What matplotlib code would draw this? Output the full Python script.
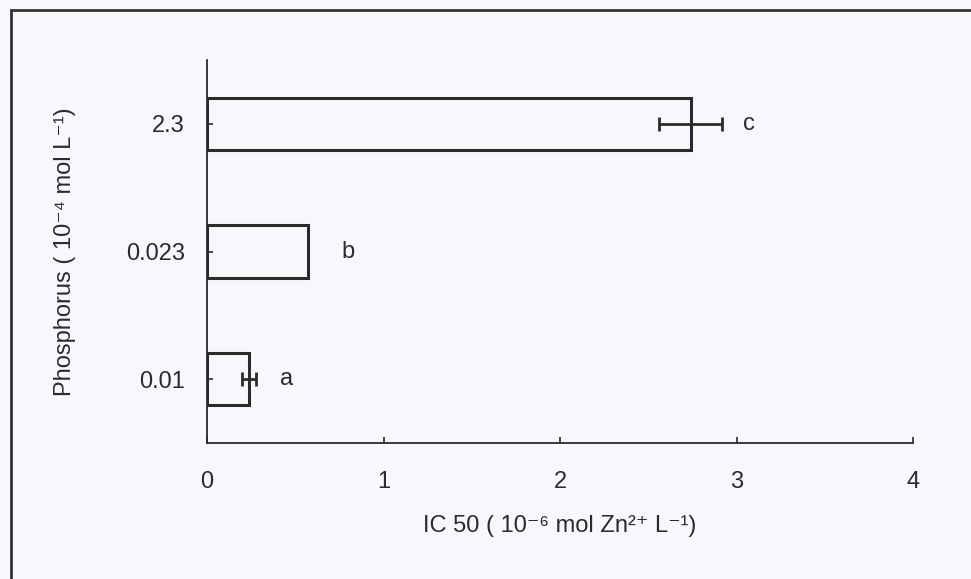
import matplotlib
matplotlib.use("Agg")
import matplotlib.pyplot as plt
from matplotlib.patches import Rectangle

categories = ["0.01", "0.023", "2.3"]
ic50 = [0.24, 0.575, 2.74]
errors = [0.04, 0.0, 0.18]
letters = ["a", "b", "c"]
letter_x = [0.45, 0.80, 3.07]

plt.rcParams["font.family"] = ["Liberation Sans", "DejaVu Sans"]
bg = "#f6f8fb"
ink = "#2b2b2b"
fs = 17

fig = plt.figure(figsize=(9.71, 5.79), dpi=100, facecolor=bg)
ax = fig.add_axes([207/971, 1-443/579, (913-207)/971, (443-60)/579])
ax.set_facecolor(bg)

# outer frame (only top/left visible in the scan)
fig.patches.append(Rectangle((11/971, -0.05), 1.2, 1-10/579+0.05, transform=fig.transFigure,
                             fill=False, edgecolor="#333333", linewidth=2))

ypos = range(len(categories))
ax.barh(ypos, ic50, height=0.41, color="none", edgecolor=ink, linewidth=2.2)
for y, v, e in zip(ypos, ic50, errors):
    if e > 0:
        ax.errorbar(v, y, xerr=e, fmt="none", ecolor=ink, elinewidth=2, capsize=5, capthick=2)
for y, lx, t in zip(ypos, letter_x, letters):
    ax.text(lx, y, t, fontsize=fs, color=ink, va="center", ha="center")

ax.set_xlim(0, 4)
ax.set_ylim(-0.5, 2.5)
ax.set_xticks([0, 1, 2, 3, 4])
ax.set_yticks(list(ypos))
ax.set_yticklabels(categories)
ax.tick_params(direction="in", length=4, width=1.2, colors=ink, labelsize=fs)
ax.tick_params(axis="x", pad=20)
ax.tick_params(axis="y", pad=16)
for s in ["top", "right"]:
    ax.spines[s].set_visible(False)
for s in ["left", "bottom"]:
    ax.spines[s].set_linewidth(1.3)
    ax.spines[s].set_color(ink)

ax.set_xlabel("IC 50 ( 10⁻⁶ mol Zn²⁺ L⁻¹)", fontsize=fs, color=ink, labelpad=16)
ax.set_ylabel("Phosphorus ( 10⁻⁴ mol L⁻¹)", fontsize=fs, color=ink, labelpad=36)

fig.savefig("out.png", dpi=100, facecolor=bg)
